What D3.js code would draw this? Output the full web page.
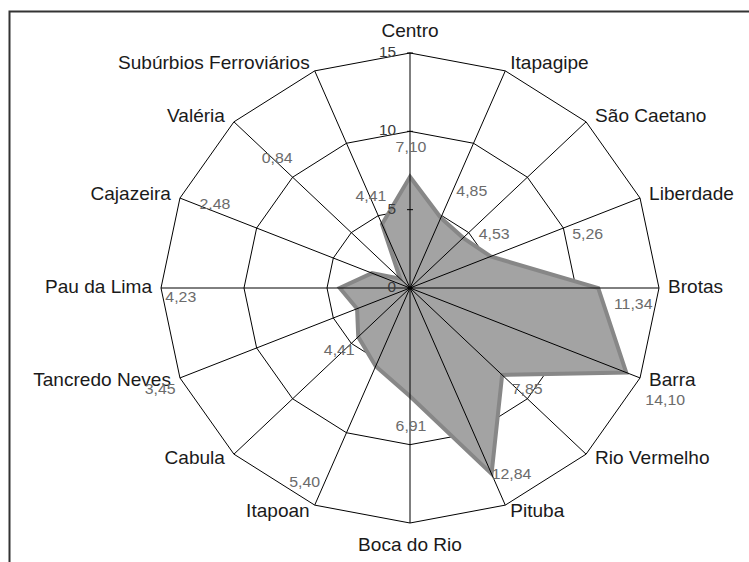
<!DOCTYPE html>
<html><head><meta charset="utf-8">
<script src="https://cdn.jsdelivr.net/npm/d3@7"></script>
<style>body{margin:0;background:#fff}svg{display:block}</style>
</head><body>
<svg id="chart" width="749" height="562"></svg>
<script>
// ---- data ----
const categories = ["Centro","Itapagipe","São Caetano","Liberdade","Brotas","Barra","Rio Vermelho","Pituba","Boca do Rio","Itapoan","Cabula","Tancredo Neves","Pau da Lima","Cajazeira","Valéria","Subúrbios Ferroviários"];
const values = [7.10,4.85,4.53,5.26,11.34,14.10,7.85,12.84,6.91,5.40,4.41,3.45,4.23,2.48,0.84,4.41];
const tickValues = [0,5,10,15];
// manual nudges (screen px) of the value labels relative to their data point
const labelNudge = [[1,-30],[31,-27],[31,-4],[97,-23],[35,16],[39,27],[25,14],[20,0],[1,29],[-71,116],[-19,13],[-197,80],[-159,9],[-157,-69],[-123,-121],[-11,-28]];

// ---- layout ----
const cx = 410, cy = 288, R = 235, sx = 249/235;
const FONT = "'Liberation Sans', Arial, Helvetica, sans-serif";
const svg = d3.select("#chart");
const ptBR = d3.formatLocale({decimal: ",", thousands: ".", grouping: [3], currency: ["", ""]});
const fmt = ptBR.format(".2f");

// frame
svg.append("path").attr("d", "M9.5,562V11.5H749").attr("fill", "none").attr("stroke", "#333").attr("stroke-width", 2);

const g = svg.append("g").attr("transform", `translate(${cx},${cy}) scale(${sx},1)`);
const r = d3.scaleLinear().domain([0, d3.max(tickValues)]).range([0, R]);
const a = d3.scaleLinear().domain([0, categories.length]).range([0, 2 * Math.PI]);
const px = (v, i) => r(v) * Math.sin(a(i));
const py = (v, i) => -r(v) * Math.cos(a(i));

// rings (under the series)
const ringLine = d3.lineRadial().angle((d, i) => a(i)).curve(d3.curveLinearClosed);
g.selectAll("path.ring").data(tickValues.filter(t => t > 0)).join("path")
  .attr("class", "ring")
  .attr("d", t => ringLine.radius(r(t))(categories))
  .attr("fill", "none").attr("stroke", "#000").attr("stroke-width", 1)
  .attr("vector-effect", "non-scaling-stroke");

// series area
const area = d3.lineRadial().angle((d, i) => a(i)).radius(d => r(d)).curve(d3.curveLinearClosed);
g.append("path").datum(values).attr("d", area)
  .attr("fill", "#a3a3a3").attr("stroke", "#878787").attr("stroke-width", 4)
  .attr("stroke-linejoin", "miter").attr("vector-effect", "non-scaling-stroke");

// spokes (over the series)
g.selectAll("line.spoke").data(categories).join("line")
  .attr("class", "spoke")
  .attr("x1", 0).attr("y1", 0)
  .attr("x2", (d, i) => px(d3.max(tickValues), i))
  .attr("y2", (d, i) => py(d3.max(tickValues), i))
  .attr("stroke", "#000").attr("stroke-width", 1).attr("vector-effect", "non-scaling-stroke");

// tick marks + labels on top axis
g.selectAll("line.tick").data(tickValues).join("line")
  .attr("class", "tick")
  .attr("x1", -3 / sx).attr("x2", 3 / sx)
  .attr("y1", t => -r(t)).attr("y2", t => -r(t))
  .attr("stroke", "#000").attr("stroke-width", 1).attr("vector-effect", "non-scaling-stroke");
g.selectAll("text.tick").data(tickValues).join("text")
  .attr("class", "tick")
  .attr("x", -14 / sx).attr("y", t => -r(t) - 1).attr("dy", "0.35em")
  .attr("text-anchor", "end")
  .attr("font-family", FONT).attr("font-size", 14.5).attr("fill", "#3a3a3a")
  .text(t => t);

// category labels
g.selectAll("text.cat").data(categories).join("text")
  .attr("class", "cat")
  .each(function (d, i) {
    const s = Math.sin(a(i)), c = Math.cos(a(i));
    const vx = px(d3.max(tickValues), i), vy = py(d3.max(tickValues), i);
    let anchor = "middle", dx = 0, y;
    if (Math.abs(s) > 0.01) {
      anchor = s > 0 ? "start" : "end";
      const off = Math.abs(c) > 0.9 ? 5 : 9;
      dx = (s > 0 ? off : -off) / sx;
    }
    if (c > 0.99) y = vy - 16;
    else if (c < -0.99) y = vy + 28;
    else y = vy + 5 - 7 * c;
    d3.select(this).attr("x", vx + dx).attr("y", y).attr("text-anchor", anchor);
  })
  .attr("font-family", FONT).attr("font-size", 18).attr("fill", "#1a1a1a")
  .text(d => d);

// value labels
g.selectAll("text.val").data(values).join("text")
  .attr("class", "val")
  .attr("x", (v, i) => px(v, i) + labelNudge[i][0] / sx)
  .attr("y", (v, i) => py(v, i) + labelNudge[i][1])
  .attr("dy", "0.35em").attr("text-anchor", "middle")
  .attr("font-family", FONT).attr("font-size", 15).attr("fill", "#6b6b6b")
  .text(v => fmt(v));
</script>
</body></html>
